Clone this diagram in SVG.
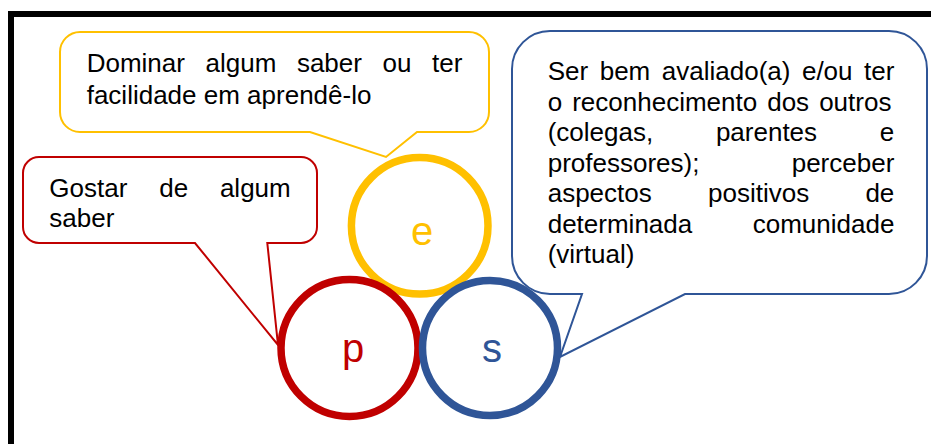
<svg xmlns="http://www.w3.org/2000/svg" width="931" height="444" viewBox="0 0 931 444">
  <style>
    .t { font-family: "Liberation Sans", Arial, sans-serif; font-size: 26px; fill: #000; }
    .big { font-family: "Liberation Sans", Arial, sans-serif; font-size: 40px; text-anchor: middle; }
    .callout { fill: #fff; stroke-width: 2; stroke-linejoin: miter; }
    .ring { fill: #fff; stroke-width: 7.5; }
  </style>
  <rect x="0" y="0" width="931" height="444" fill="#fff"/>
  <g id="frame">
    <path d="M11,444 V14 H931" fill="none" stroke="#000" stroke-width="6" stroke-linejoin="miter"/>
  </g>

  <g id="circle-e">
    <circle cx="419.7" cy="225.8" r="68.3" class="ring" stroke="#FFC000" stroke-width="8"/>
    <text x="422" y="245" class="big" fill="#FFC000">e</text>
  </g>
  <g id="circle-p">
    <circle cx="349.5" cy="348" r="68.5" class="ring" stroke="#C00000"/>
    <text x="353" y="361.5" class="big" fill="#C00000">p</text>
  </g>
  <g id="circle-s">
    <circle cx="490" cy="348" r="67.5" class="ring" stroke="#2F5597"/>
    <text x="492" y="362" class="big" fill="#2F5597">s</text>
  </g>

  <g id="callout-yellow">
    <path class="callout" stroke="#FFC000" d="M80,32 H469 A20,20 0 0 1 489,52 V112 A20,20 0 0 1 469,132 H417 L386,157 L310,132 H80 A20,20 0 0 1 60,112 V52 A20,20 0 0 1 80,32 Z"/>
    <text class="t" y="72"><tspan x="86.7">Dominar</tspan><tspan x="205.5">algum</tspan><tspan x="296.9">saber</tspan><tspan x="382.5">ou</tspan><tspan x="432">ter</tspan></text>
    <text class="t" x="86.7" y="103.5">facilidade em aprendê-lo</text>
  </g>

  <g id="callout-red">
    <path class="callout" stroke="#C00000" d="M39,157 H301 A16,16 0 0 1 317,173 V227 A16,16 0 0 1 301,243 H267.3 L278,345 L195,243 H39 A16,16 0 0 1 23,227 V173 A16,16 0 0 1 39,157 Z"/>
    <text class="t" y="197"><tspan x="49.3">Gostar</tspan><tspan x="159.2">de</tspan><tspan x="219.9">algum</tspan></text>
    <text class="t" x="49.3" y="227">saber</text>
  </g>

  <g id="callout-blue">
    <path class="callout" stroke="#2F5597" d="M550,31 H889 A38,38 0 0 1 927,69 V256 A38,38 0 0 1 889,294 H685 L560,357 L582,294 H550 A38,38 0 0 1 512,256 V69 A38,38 0 0 1 550,31 Z"/>
    <text class="t" x="547.7" y="80" word-spacing="4.3">Ser bem avaliado(a) e/ou ter</text>
    <text class="t" x="547.7" y="110.5" word-spacing="2.8">o reconhecimento dos outros</text>
    <text class="t" y="141"><tspan x="547.7">(colegas,</tspan><tspan x="715.9">parentes</tspan><tspan x="879.8">e</tspan></text>
    <text class="t" y="171.5"><tspan x="547.7">professores);</tspan><tspan x="791.7">perceber</tspan></text>
    <text class="t" y="202"><tspan x="547.7">aspectos</tspan><tspan x="708">positivos</tspan><tspan x="865.4">de</tspan></text>
    <text class="t" y="232.5"><tspan x="547.7">determinada</tspan><tspan x="752.7">comunidade</tspan></text>
    <text class="t" x="547.7" y="263">(virtual)</text>
  </g>
</svg>
